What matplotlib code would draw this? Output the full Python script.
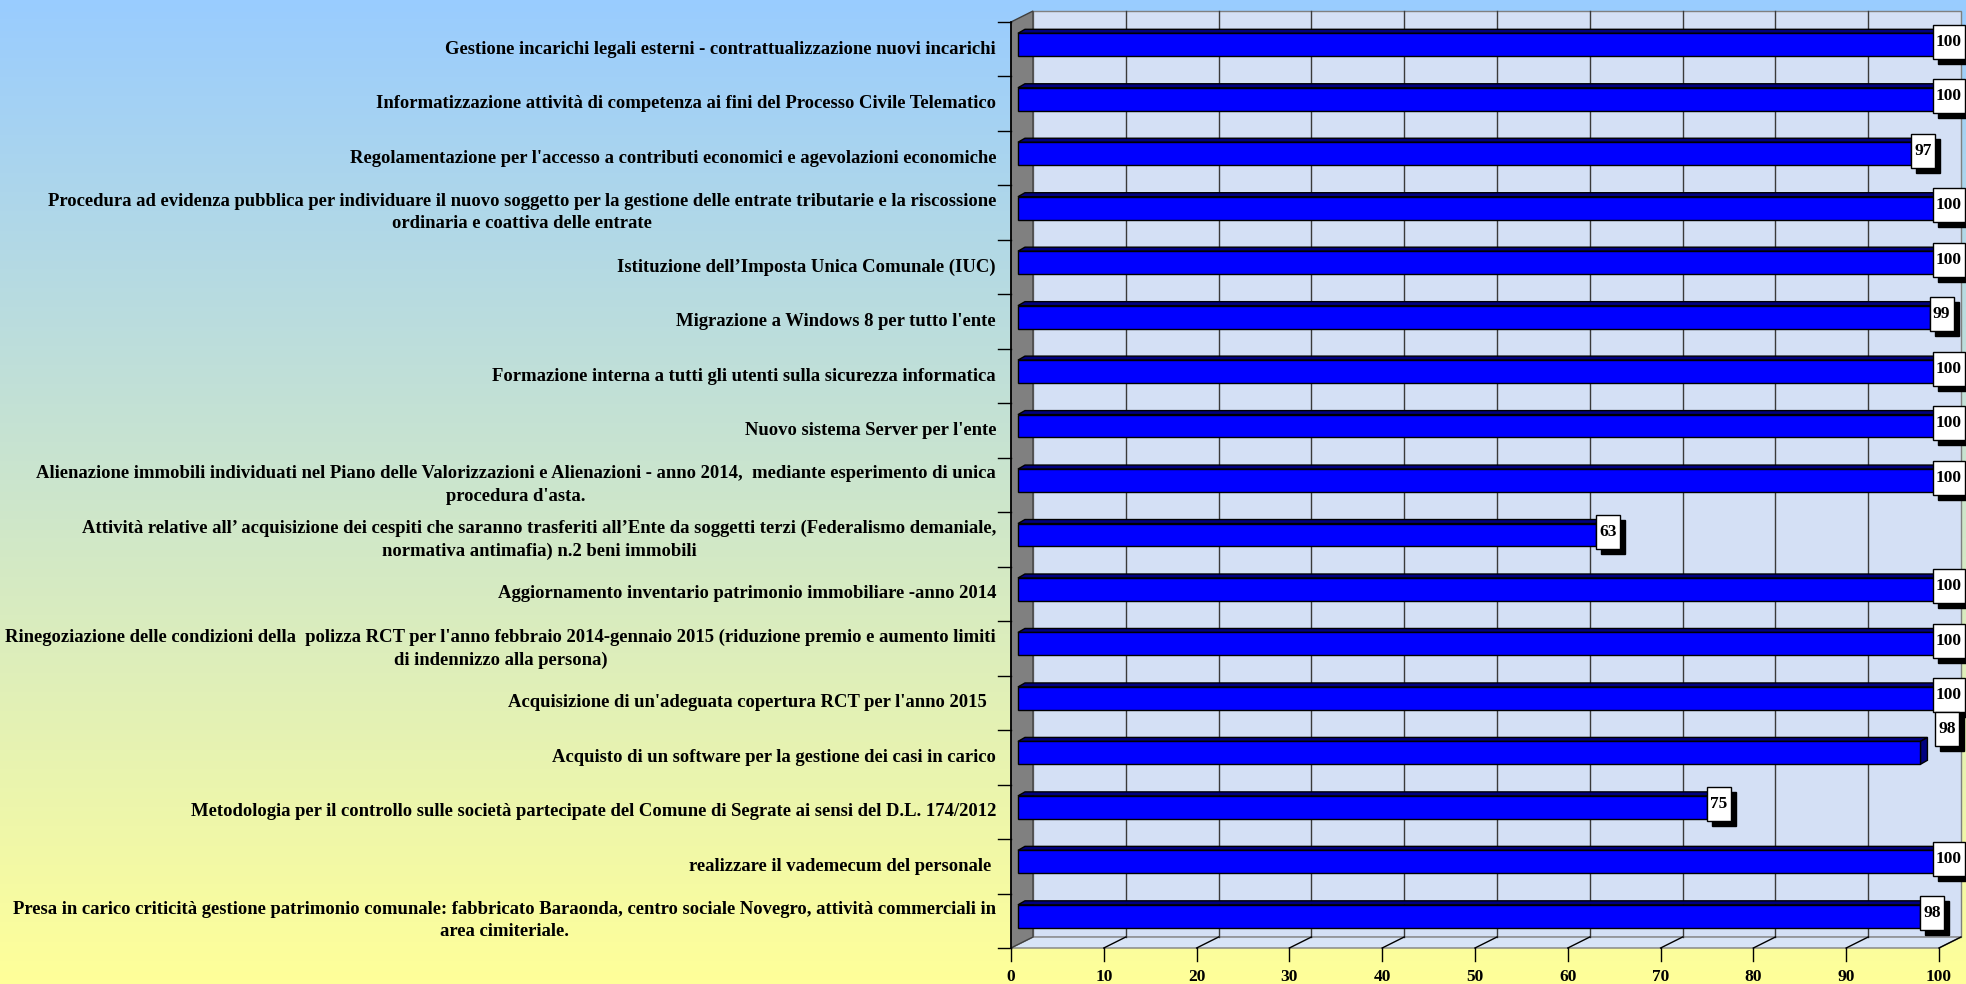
"""Stato di avanzamento obiettivi: 3D-style horizontal bar chart."""

import matplotlib
matplotlib.use("Agg")
import matplotlib.pyplot as plt
import numpy as np
from matplotlib import transforms
from matplotlib.colors import LinearSegmentedColormap
from matplotlib.lines import Line2D
from matplotlib.patches import Polygon, Rectangle


LABELS = [
    "Gestione incarichi legali esterni - contrattualizzazione nuovi incarichi",
    "Informatizzazione attività di competenza ai fini del Processo Civile Telematico",
    "Regolamentazione per l'accesso a contributi economici e agevolazioni economiche",
    "Procedura ad evidenza pubblica per individuare il nuovo soggetto per la gestione delle entrate tributarie e la riscossione\nordinaria e coattiva delle entrate",
    "Istituzione dell’Imposta Unica Comunale (IUC)",
    "Migrazione a Windows 8 per tutto l'ente",
    "Formazione interna a tutti gli utenti sulla sicurezza informatica",
    "Nuovo sistema Server per l'ente",
    "Alienazione immobili individuati nel Piano delle Valorizzazioni e Alienazioni - anno 2014,  mediante esperimento di unica\nprocedura d'asta.",
    "Attività relative all’ acquisizione dei cespiti che saranno trasferiti all’Ente da soggetti terzi (Federalismo demaniale,\nnormativa antimafia) n.2 beni immobili",
    "Aggiornamento inventario patrimonio immobiliare -anno 2014",
    "Rinegoziazione delle condizioni della  polizza RCT per l'anno febbraio 2014-gennaio 2015 (riduzione premio e aumento limiti\ndi indennizzo alla persona)",
    "Acquisizione di un'adeguata copertura RCT per l'anno 2015  ",
    "Acquisto di un software per la gestione dei casi in carico",
    "Metodologia per il controllo sulle società partecipate del Comune di Segrate ai sensi del D.L. 174/2012",
    "realizzare il vademecum del personale ",
    "Presa in carico criticità gestione patrimonio comunale: fabbricato Baraonda, centro sociale Novegro, attività commerciali in\narea cimiteriale.",
]
VALUES = [100, 100, 97, 100, 100, 99, 100, 100, 100, 63, 100, 100, 100, 98, 75, 100, 98]
X_TICKS = [0, 10, 20, 30, 40, 50, 60, 70, 80, 90, 100]

# styling (pixels at dpi 100)
W, H = 1966, 984
PLOT_LEFT, PLOT_RIGHT, PLOT_TOP, PLOT_BOTTOM = 1011, 1939, 22, 948
DEPTH = (22, 11)
BAR_DEPTH = (7, 4)
BAR_LIFT = 4.5
BAR_START = 0.75
BAR_HEIGHT = 0.42
BG_TOP, BG_BOTTOM = "#99CCFF", "#FFFF99"
WALL, FLOOR, SIDE = "#D4E0F5", "#D8E4F6", "#808080"
BAR_FRONT, BAR_SHADE = "#0000FF", "#000080"
LABEL_NUDGE = {13: (15, 21)}
FONT = ["Liberation Serif", "DejaVu Serif"]

plt.rcParams["font.family"] = FONT

fig = plt.figure(figsize=(W / 100, H / 100), dpi=100)

bg = fig.add_axes([0, 0, 1, 1], zorder=-10)
bg.imshow(np.linspace(0, 1, 256)[:, None], aspect="auto", extent=[0, 1, 0, 1],
          cmap=LinearSegmentedColormap.from_list("bg", [BG_TOP, BG_BOTTOM]))
bg.axis("off")

ax = fig.add_axes([PLOT_LEFT / W, 1 - PLOT_BOTTOM / H,
                   (PLOT_RIGHT - PLOT_LEFT) / W, (PLOT_BOTTOM - PLOT_TOP) / H])
n = len(VALUES)
ax.set_xlim(X_TICKS[0], X_TICKS[-1])
ax.set_ylim(n - 0.5, -0.5)
ax.axis("off")

ident = transforms.IdentityTransform()
to_px = ax.transData.transform
dx, dy = DEPTH
y_top, y_bot = -0.5, n - 0.5


def add_poly(points, **kw):
    ax.add_patch(Polygon(points, closed=True, transform=ident, clip_on=False, **kw))


def add_line(xs, ys, **kw):
    ax.add_line(Line2D(xs, ys, transform=ident, clip_on=False, **kw))


# walls
(fx0, fy_top), (fx1, fy_bot) = to_px([(X_TICKS[0], y_top), (X_TICKS[-1], y_bot)])
add_poly([(fx0 + dx, fy_bot + dy), (fx1 + dx, fy_bot + dy), (fx1 + dx, fy_top + dy), (fx0 + dx, fy_top + dy)],
         facecolor=WALL, edgecolor="#808080", lw=1, zorder=1)
add_poly([(fx0, fy_bot), (fx1, fy_bot), (fx1 + dx, fy_bot + dy), (fx0 + dx, fy_bot + dy)],
         facecolor=FLOOR, edgecolor="#808080", lw=1, zorder=1)
add_poly([(fx0, fy_bot), (fx0, fy_top), (fx0 + dx, fy_top + dy), (fx0 + dx, fy_bot + dy)],
         facecolor=SIDE, edgecolor="#404040", lw=1, zorder=1)
add_line([fx0, fx0], [fy_bot, fy_top], color="black", lw=1.2, zorder=2)

# grid on back wall and floor, x ticks
for t in X_TICKS:
    (tx, _), = to_px([(t, y_bot)])
    if 0 < t < X_TICKS[-1]:
        add_line([tx + dx, tx + dx], [fy_bot + dy, fy_top + dy], color="#3a3a3a", lw=1, zorder=2)
    if t > 0:
        add_line([tx, tx + dx], [fy_bot, fy_bot + dy], color="black", lw=1, zorder=2)
    add_line([tx, tx], [fy_bot, fy_bot - 13], color="black", lw=1, zorder=2)
    ax.text(tx, fy_bot - 29, str(t), transform=ident, ha="center", va="center",
            fontsize=12.5, fontweight="bold")

# y ticks and category labels
for i in range(n + 1):
    (_, ty), = to_px([(0, i - 0.5)])
    add_line([fx0 - 13, fx0], [ty, ty], color="black", lw=1, zorder=2)
label_trans = ax.transData + transforms.Affine2D().translate(-15, 0)
for i, label in enumerate(LABELS):
    ax.text(0, i, label, transform=label_trans, ha="right", va="center", multialignment="center",
            fontsize=13.4, fontweight="bold", linespacing=1.42)

# bars
bar_trans = ax.transData + transforms.Affine2D().translate(0, BAR_LIFT)
values = np.array(VALUES, dtype=float)
bars = ax.barh(np.arange(n), values - BAR_START, left=BAR_START, height=BAR_HEIGHT,
               color=BAR_FRONT, edgecolor="black", lw=1, transform=bar_trans, zorder=5)
bdx, bdy = BAR_DEPTH
for i, bar in enumerate(bars):
    (x0, ya), (x1, yb) = bar_trans.transform([(bar.get_x(), bar.get_y()),
                                              (bar.get_x() + bar.get_width(), bar.get_y() + bar.get_height())])
    top, bottom = max(ya, yb), min(ya, yb)
    add_poly([(x0, top), (x1, top), (x1 + bdx, top + bdy), (x0 + bdx, top + bdy)],
             facecolor=BAR_SHADE, edgecolor="black", lw=1, zorder=4)
    add_poly([(x1, bottom), (x1, top), (x1 + bdx, top + bdy), (x1 + bdx, bottom + bdy)],
             facecolor=BAR_SHADE, edgecolor="black", lw=1, zorder=4)

# value labels
for i, v in enumerate(VALUES):
    (vx, vy), = bar_trans.transform([(v, i)])
    text = str(v)
    bw, bh = 8 + 8 * len(text), 34
    left = min(vx, W - bw - 1)
    cy = vy + 3
    nx, ny = LABEL_NUDGE.get(i, (0, 0))
    left += nx
    cy += ny
    ax.add_patch(Rectangle((left + 5, cy - bh / 2 - 5), bw, bh, facecolor="black", edgecolor="black",
                           transform=ident, clip_on=False, zorder=8))
    ax.add_patch(Rectangle((left, cy - bh / 2), bw, bh, facecolor="white", edgecolor="black", lw=1,
                           transform=ident, clip_on=False, zorder=9))
    ax.text(left + bw / 2, cy, text, transform=ident, ha="center", va="center",
            fontsize=12.5, fontweight="bold", zorder=10)

fig.savefig("out.png", dpi=100)
